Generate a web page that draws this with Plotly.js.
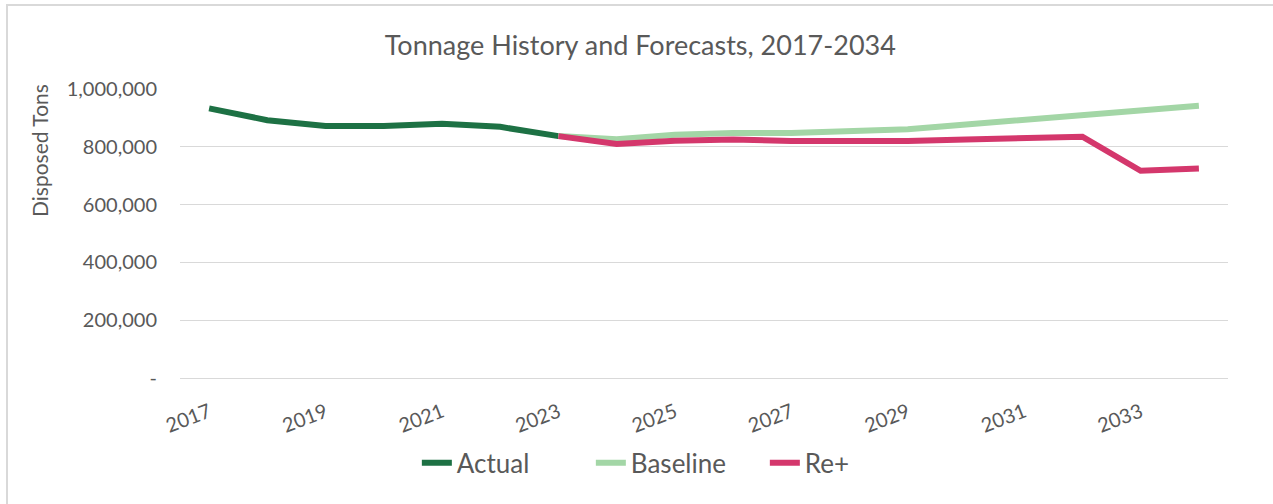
<!DOCTYPE html>
<html>
<head>
<meta charset="utf-8">
<script src="https://cdn.plot.ly/plotly-3.0.1.min.js"></script>
<style>
  html, body { margin: 0; padding: 0; background: #ffffff; }
  #wrap { position: relative; width: 1273px; height: 504px; overflow: hidden; }
  #chart { position: absolute; left: 0; top: 0; width: 1273px; height: 504px; }
  #frame { position: absolute; left: 6px; top: 4px; width: 1300px; height: 600px;
           border-left: 2px solid #d9d9d9; border-top: 2px solid #d9d9d9; pointer-events: none; }
</style>
</head>
<body>
<div id="wrap">
  <div id="chart"></div>
  <div id="frame"></div>
</div>
<script>
// ---- data ----
const actualYears   = [2017, 2018, 2019, 2020, 2021, 2022, 2023];
const actualValues  = [933000, 892000, 872000, 872000, 880000, 869000, 837000];

const forecastYears  = [2023, 2024, 2025, 2026, 2027, 2028, 2029, 2030, 2031, 2032, 2033, 2034];
const baselineValues = [837000, 826000, 842000, 848000, 848000, 853000, 861000, 877000, 894000, 910000, 926000, 942000];
const rePlusValues   = [837000, 810000, 821000, 825000, 820000, 818000, 820000, 825000, 829000, 835000, 717000, 725000];

const yTickValues = [0, 200000, 400000, 600000, 800000, 1000000];
const yTickLabels = ['-', '200,000', '400,000', '600,000', '800,000', '1,000,000'];
const xTickValues = [2017, 2019, 2021, 2023, 2025, 2027, 2029, 2031, 2033];

const seriesNames  = ['Actual', 'Baseline', 'Re+'];
const seriesColors = ['#1d7144', '#a3d6a6', '#d4376c'];

const FONT = 'Lato, "Open Sans", sans-serif';
const GREY = '#595959';

const traces = [
  { x: actualYears, y: actualValues, name: seriesNames[0] },
  { x: forecastYears, y: baselineValues, name: seriesNames[1] },
  { x: forecastYears, y: rePlusValues, name: seriesNames[2] }
].map((t, i) => Object.assign(t, {
  type: 'scatter', mode: 'lines',
  line: { color: seriesColors[i], width: 6, shape: 'linear' },
  hoverinfo: 'x+y+name'
}));

const layout = {
  width: 1273, height: 504,
  margin: { l: 180, r: 45, t: 89, b: 126 },
  paper_bgcolor: '#ffffff', plot_bgcolor: '#ffffff',
  font: { family: FONT, color: GREY, size: 20 },
  title: {
    text: 'Tonnage History and Forecasts, 2017-2034',
    font: { family: FONT, size: 27, color: GREY },
    x: 0.503, xref: 'container', xanchor: 'center',
    y: 0.91, yref: 'container', yanchor: 'middle'
  },
  xaxis: {
    range: [2016.5, 2034.5],
    tickmode: 'array', tickvals: xTickValues,
    ticktext: xTickValues.map(String),
    tickangle: -21,
    tickfont: { family: FONT, size: 20, color: GREY },
    showgrid: false, zeroline: false, showline: false, ticks: '',
    ticklabelstandoff: 18,
    fixedrange: true
  },
  yaxis: {
    range: [0, 1000000],
    tickmode: 'array', tickvals: yTickValues, ticktext: yTickLabels,
    tickfont: { family: FONT, size: 20, color: GREY },
    showgrid: true, gridcolor: '#d9d9d9', gridwidth: 1,
    zeroline: true, zerolinecolor: '#d9d9d9', zerolinewidth: 1,
    showline: false, ticks: '',
    ticklabelstandoff: 22,
    fixedrange: true
  },
  showlegend: true,
  legend: {
    orientation: 'h',
    x: 0.226, xanchor: 'left',
    y: -0.294, yanchor: 'middle',
    font: { family: FONT, size: 26, color: GREY },
    entrywidth: 129, entrywidthmode: 'pixels',
    tracegroupgap: 0
  },
  annotations: [{
    text: 'Disposed Tons',
    xref: 'paper', yref: 'paper',
    x: -0.1336, y: 0.789,
    xanchor: 'center', yanchor: 'middle',
    textangle: -90, showarrow: false,
    font: { family: FONT, size: 21, color: GREY }
  }]
};

Plotly.newPlot('chart', traces, layout, { displayModeBar: false, staticPlot: true });
</script>
</body>
</html>
